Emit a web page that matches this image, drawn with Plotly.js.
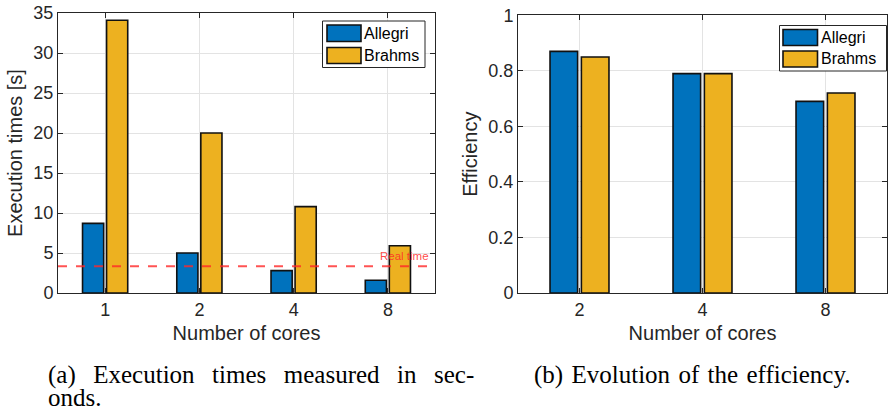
<!DOCTYPE html>
<html>
<head>
<meta charset="utf-8">
<script src="https://cdn.plot.ly/plotly-3.0.1.min.js"></script>
<style>html,body{margin:0;padding:0;background:#fff}#chart{width:888px;height:415px}</style>
</head>
<body>
<div id="chart"></div>
<script>
// ---- Data ----
const coresA = ["1", "2", "4", "8"];
const timeAllegri = [8.7, 5.0, 2.8, 1.6];
const timeBrahms = [34.1, 20.0, 10.8, 5.9];
const realTime = 3.33;

const coresB = ["2", "4", "8"];
const effAllegri = [0.87, 0.79, 0.69];
const effBrahms = [0.85, 0.79, 0.72];

const seriesNames = ["Allegri", "Brahms"];
const gapA = "\u2002\u2009";
const captionA1 = ["(a)", "Execution", "times", "measured", "in", "sec-"].join(gapA);
const captionA2 = "onds.";
const captionB = "(b)\u200A Evolution\u200A of\u200A the\u200A efficiency.";

// ---- Style ----
const W = 888, H = 415;
const cBlue = "#0072BD", cGold = "#EDB120";
const axCol = "#262626", gridCol = "#e3e3e3";
const fontSans = "Liberation Sans, Arial, sans-serif";
const fontSerif = "Liberation Serif, Times New Roman, serif";
const px = x => x / W;
const py = y => 1 - y / H;

const barLine = {color: "#111111", width: 1.6};
const traces = [
  {type: "bar", x: coresA, y: timeAllegri, name: seriesNames[0], marker: {color: cBlue, line: barLine}, xaxis: "x", yaxis: "y", showlegend: false},
  {type: "bar", x: coresA, y: timeBrahms, name: seriesNames[1], marker: {color: cGold, line: barLine}, xaxis: "x", yaxis: "y", showlegend: false},
  {type: "bar", x: coresB, y: effAllegri, name: seriesNames[0], marker: {color: cBlue, line: barLine}, xaxis: "x2", yaxis: "y2", showlegend: false},
  {type: "bar", x: coresB, y: effBrahms, name: seriesNames[1], marker: {color: cGold, line: barLine}, xaxis: "x2", yaxis: "y2", showlegend: false}
];

function xax(domain, anchor, n) {
  return {
    domain: domain, anchor: anchor, type: "category", range: [-0.5, n - 0.5],
    showgrid: true, gridcolor: gridCol, gridwidth: 1,
    showline: true, linecolor: axCol, linewidth: 1, mirror: "ticks",
    ticks: "inside", ticklen: 5, tickcolor: axCol,
    tickfont: {family: fontSans, size: 18, color: axCol},
    title: {text: "Number of cores", font: {family: fontSans, size: 20, color: axCol}, standoff: 7},
    automargin: false, fixedrange: true
  };
}
function yax(domain, anchor, range, dtick, title) {
  return {
    domain: domain, anchor: anchor, range: range, dtick: dtick,
    showgrid: true, gridcolor: gridCol, gridwidth: 1, zeroline: false,
    showline: true, linecolor: axCol, linewidth: 1, mirror: "ticks",
    ticks: "inside", ticklen: 5, tickcolor: axCol,
    tickfont: {family: fontSans, size: 18, color: axCol},
    title: {text: title, font: {family: fontSans, size: 20, color: axCol}, standoff: 5},
    automargin: false, fixedrange: true
  };
}

// legend drawn as shapes + annotations (wide MATLAB-style swatches)
function legendItems(box, sw, rows, textX) {
  const shapes = [
    {type: "rect", xref: "paper", yref: "paper", x0: px(box[0]), x1: px(box[1]), y0: py(box[3]), y1: py(box[2]),
     line: {color: axCol, width: 1}, fillcolor: "#ffffff", layer: "above"}
  ];
  const anns = [];
  const cols = [cBlue, cGold];
  rows.forEach((r, i) => {
    shapes.push({type: "rect", xref: "paper", yref: "paper", x0: px(sw[0]), x1: px(sw[1]), y0: py(r[1]), y1: py(r[0]),
      line: {color: "#111111", width: 1.6}, fillcolor: cols[i], layer: "above"});
    anns.push({xref: "paper", yref: "paper", x: px(textX), y: py((r[0] + r[1]) / 2), xanchor: "left", yanchor: "middle",
      text: seriesNames[i], showarrow: false, font: {family: fontSans, size: 16, color: "#000"}});
  });
  return {shapes, anns};
}
const legA = legendItems([322.5, 425, 21, 67.5], [327, 361], [[25, 41.5], [47.5, 63.5]], 362);
const legB = legendItems([779.5, 886.5, 25.5, 71], [783, 817.5], [[29.5, 45.5], [51, 67]], 818.5);

const layout = {
  width: W, height: H,
  margin: {l: 0, r: 0, t: 0, b: 0},
  paper_bgcolor: "#ffffff", plot_bgcolor: "#ffffff",
  barmode: "group", bargap: 0.49, bargroupgap: 0.12,
  showlegend: false,
  xaxis: xax([px(58), px(435)], "y", coresA.length),
  yaxis: yax([py(293), py(13)], "x", [0, 35], 5, "Execution times [s]"),
  xaxis2: xax([px(518), px(887)], "y2", coresB.length),
  yaxis2: yax([py(293), py(15.3)], "x2", [0, 1], 0.2, "Efficiency"),
  shapes: [
    {type: "line", xref: "x domain", yref: "y", x0: 0, x1: 1, y0: realTime, y1: realTime,
     line: {color: "rgba(255,40,40,0.8)", width: 2, dash: "dash"}, layer: "above"}
  ].concat(legA.shapes, legB.shapes),
  annotations: [
    {xref: "x domain", yref: "y", x: 0.99, y: realTime, xanchor: "right", yanchor: "bottom", yshift: 2,
     text: "Real time", showarrow: false, font: {family: fontSans, size: 11.5, color: "rgba(255,40,40,0.85)"}},
    {xref: "paper", yref: "paper", x: px(46), y: py(374.5), xanchor: "left", yanchor: "middle", text: captionA1,
     showarrow: false, font: {family: fontSerif, size: 25, color: "#000"}},
    {xref: "paper", yref: "paper", x: px(46), y: py(397.5), xanchor: "left", yanchor: "middle", text: captionA2,
     showarrow: false, font: {family: fontSerif, size: 25, color: "#000"}},
    {xref: "paper", yref: "paper", x: px(532), y: py(374.5), xanchor: "left", yanchor: "middle", text: captionB,
     showarrow: false, font: {family: fontSerif, size: 25, color: "#000"}}
  ].concat(legA.anns, legB.anns)
};

Plotly.newPlot("chart", traces, layout, {displayModeBar: false, staticPlot: true});
</script>
</body>
</html>
